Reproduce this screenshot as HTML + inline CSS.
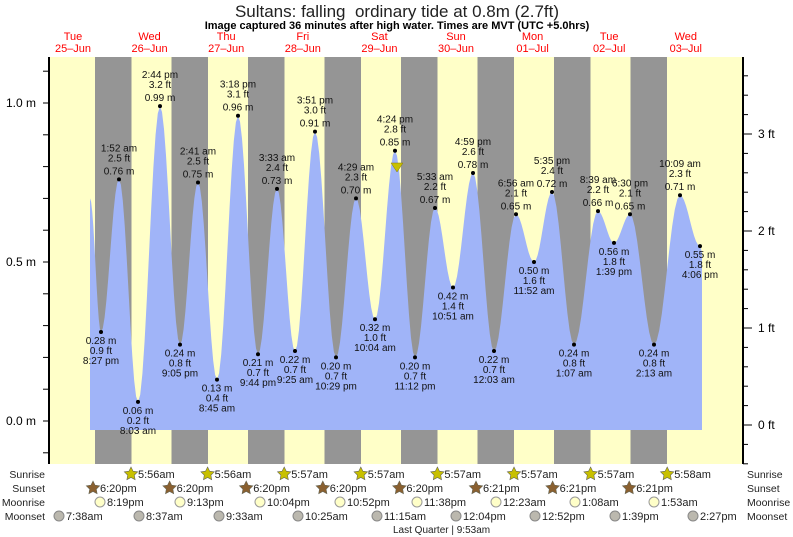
<!DOCTYPE html>
<html><head><meta charset="utf-8">
<style>
html,body{margin:0;padding:0;background:#fff;}
svg{display:block;font-family:"Liberation Sans",sans-serif;}
</style></head>
<body>
<svg id="s" width="793" height="537" xmlns="http://www.w3.org/2000/svg"></svg>
<script>
const s=document.getElementById('s');let h='';
const Y=m=>421-m*318;
h+=`<rect x="49" y="57" width="694" height="407" fill="#ffffc8"/>`;
[95,171.5,248,324.5,401,477.5,554,630.5].forEach(x=>{h+=`<rect x="${x}" y="57" width="36.5" height="407" fill="#959595"/>`;});
const P=[[90,0.70],[101,0.28],[119,0.76],[138,0.06],[160,0.99],[180,0.24],[198,0.75],[217,0.13],[238,0.96],[258,0.21],[277,0.73],[295,0.22],[315,0.91],[336,0.20],[356,0.70],[375,0.32],[395,0.85],[415,0.20],[435,0.67],[453,0.42],[473,0.78],[494,0.22],[516,0.65],[534,0.50],[552,0.72],[574,0.24],[598,0.66],[614,0.56],[630,0.65],[654,0.24],[680,0.71],[700,0.55]];
let d=`M90 430 L90 ${Y(0.70)} `;
for(let i=1;i<P.length;i++){const[a,b]=[P[i-1],P[i]];for(let t=1;t<=10;t++){const f=t/10,x=a[0]+(b[0]-a[0])*f,v=a[1]+(b[1]-a[1])*(1-Math.cos(Math.PI*f))/2;d+=`L${x.toFixed(1)} ${Y(v).toFixed(1)} `;}}
d+=`L702 ${Y(0.53)} L702 430 Z`;
h+=`<path d="${d}" fill="#a0b4f8"/>`;
const L=[[101,0.28,'0.9 ft','8:27 pm',0],[119,0.76,'2.5 ft','1:52 am',1],[138,0.06,'0.2 ft','8:03 am',0],[160,0.99,'3.2 ft','2:44 pm',1],[180,0.24,'0.8 ft','9:05 pm',0],[198,0.75,'2.5 ft','2:41 am',1],[217,0.13,'0.4 ft','8:45 am',0],[238,0.96,'3.1 ft','3:18 pm',1],[258,0.21,'0.7 ft','9:44 pm',0],[277,0.73,'2.4 ft','3:33 am',1],[295,0.22,'0.7 ft','9:25 am',0],[315,0.91,'3.0 ft','3:51 pm',1],[336,0.20,'0.7 ft','10:29 pm',0],[356,0.70,'2.3 ft','4:29 am',1],[375,0.32,'1.0 ft','10:04 am',0],[395,0.85,'2.8 ft','4:24 pm',1],[415,0.20,'0.7 ft','11:12 pm',0],[435,0.67,'2.2 ft','5:33 am',1],[453,0.42,'1.4 ft','10:51 am',0],[473,0.78,'2.6 ft','4:59 pm',1],[494,0.22,'0.7 ft','12:03 am',0],[516,0.65,'2.1 ft','6:56 am',1],[534,0.50,'1.6 ft','11:52 am',0],[552,0.72,'2.4 ft','5:35 pm',1],[574,0.24,'0.8 ft','1:07 am',0],[598,0.66,'2.2 ft','8:39 am',1],[614,0.56,'1.8 ft','1:39 pm',0],[630,0.65,'2.1 ft','6:30 pm',1],[654,0.24,'0.8 ft','2:13 am',0],[680,0.71,'2.3 ft','10:09 am',1],[700,0.55,'1.8 ft','4:06 pm',0]];
L.forEach(([x,m,ft,t,hi])=>{const y=Y(m);h+=`<circle cx="${x}" cy="${y}" r="2" fill="#000"/>`;const ms=m.toFixed(2)+' m';
const T=(yy,tx)=>`<text x="${x}" y="${yy}" font-size="10" text-anchor="middle" fill="#111">${tx}</text>`;
if(hi){h+=T(y-28,t)+T(y-18,ft)+T(y-5,ms);}else{h+=T(y+12,ms)+T(y+22,ft)+T(y+32,t);}});
h+=`<path d="M391 163 L403 163 L397 172 Z" fill="#c8c000" stroke="#887700" stroke-width="0.5"/>`;
h+=`<line x1="49" y1="57" x2="49" y2="464" stroke="#000" stroke-width="2"/><line x1="743" y1="57" x2="743" y2="464" stroke="#000" stroke-width="2"/>`;
for(let i=-1;i<=12;i++){const y=Y(i/10);if(y<57||y>464)continue;h+=`<line x1="43" y1="${y}" x2="49" y2="${y}" stroke="#000"/>`;}
[[1.0,'1.0 m'],[0.5,'0.5 m'],[0,'0.0 m']].forEach(([m,t])=>{h+=`<text x="36" y="${Y(m)+4}" font-size="12" text-anchor="end">${t}</text>`;});
const F=f=>425-f*97;
for(let i=-2;i<=19;i++){const y=F(i/5);if(y<57||y>464)continue;h+=`<line x1="743" y1="${y}" x2="748" y2="${y}" stroke="#000"/>`;}
[0,1,2,3].forEach(f=>{const y=F(f);h+=`<line x1="743" y1="${y}" x2="752" y2="${y}" stroke="#000"/><text x="758" y="${y+4}" font-size="12">${f} ft</text>`;});
h+=`<text x="397" y="17" font-size="17" text-anchor="middle" fill="#222" xml:space="preserve" style="white-space:pre">Sultans: falling  ordinary tide at 0.8m (2.7ft)</text>`;
h+=`<text x="397" y="29" font-size="11" font-weight="bold" text-anchor="middle">Image captured 36 minutes after high water. Times are MVT (UTC +5.0hrs)</text>`;
const D=[['Tue','25–Jun'],['Wed','26–Jun'],['Thu','27–Jun'],['Fri','28–Jun'],['Sat','29–Jun'],['Sun','30–Jun'],['Mon','01–Jul'],['Tue','02–Jul'],['Wed','03–Jul']];
D.forEach(([a,b],i)=>{const x=73+i*76.6;h+=`<text x="${x}" y="40" font-size="11" fill="#f00" text-anchor="middle">${a}</text><text x="${x}" y="52" font-size="11" fill="#f00" text-anchor="middle">${b}</text>`;});
const rows=[['Sunrise',478],['Sunset',492],['Moonrise',506],['Moonset',520]];
rows.forEach(([t,y])=>{h+=`<text x="45" y="${y}" font-size="10.5" text-anchor="end" fill="#222">${t}</text><text x="747" y="${y}" font-size="10.5" fill="#222">${t}</text>`;});
const star=(x,y,f)=>{let p='';for(let k=0;k<10;k++){const r=k%2?3.5:7,a=-Math.PI/2+k*Math.PI/5;p+=(k?'L':'M')+(x+r*Math.cos(a)).toFixed(1)+' '+(y+r*Math.sin(a)).toFixed(1);}return `<path d="${p}Z" fill="${f}" stroke="#665" stroke-width="0.6"/>`;};
const sr=['5:56am','5:56am','5:57am','5:57am','5:57am','5:57am','5:57am','5:58am'];
sr.forEach((t,i)=>{const x=131+i*76.6;h+=star(x,474,'#c8c000')+`<text x="${x+7}" y="478" font-size="11" fill="#222">${t}</text>`;});
const ss=['6:20pm','6:20pm','6:20pm','6:20pm','6:20pm','6:21pm','6:21pm','6:21pm'];
ss.forEach((t,i)=>{const x=93+i*76.6;h+=star(x,488,'#8a6030')+`<text x="${x+7}" y="492" font-size="11" fill="#222">${t}</text>`;});
const mr=[[100,'8:19pm'],[180,'9:13pm'],[260,'10:04pm'],[340,'10:52pm'],[417,'11:38pm'],[496,'12:23am'],[575,'1:08am'],[654,'1:53am']];
mr.forEach(([x,t])=>{h+=`<circle cx="${x}" cy="502" r="5" fill="#ffffc8" stroke="#999"/><text x="${x+7}" y="506" font-size="11" fill="#222">${t}</text>`;});
const ms=[[59,'7:38am'],[139,'8:37am'],[219,'9:33am'],[298,'10:25am'],[377,'11:15am'],[456,'12:04pm'],[535,'12:52pm'],[615,'1:39pm'],[693,'2:27pm']];
ms.forEach(([x,t])=>{h+=`<circle cx="${x}" cy="516" r="5" fill="#bbb8ae" stroke="#888"/><text x="${x+7}" y="520" font-size="11" fill="#222">${t}</text>`;});
h+=`<text x="393" y="533" font-size="10" fill="#222">Last Quarter | 9:53am</text>`;
s.innerHTML=h;
</script>
</body></html>
